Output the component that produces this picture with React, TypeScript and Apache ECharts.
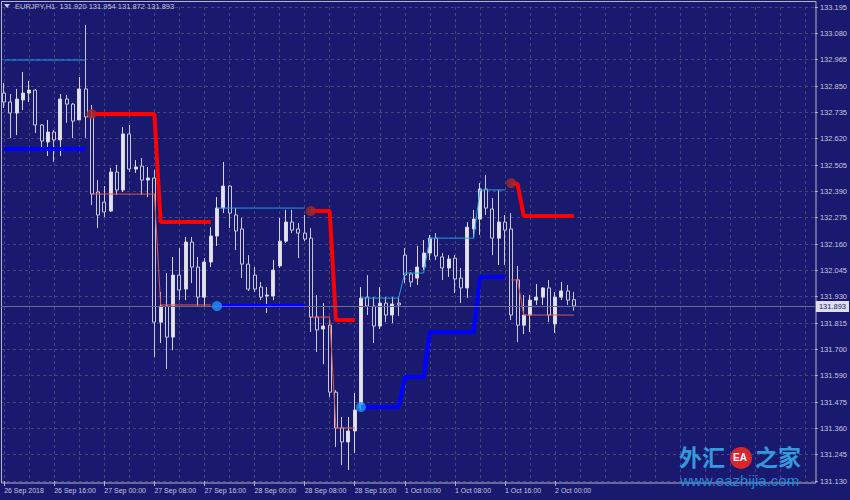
import React, { useEffect, useRef } from 'react';
import * as echarts from 'echarts';

const _ = null;

// ---- axis labels ----
const X_TICK_LABELS = ['26 Sep 2018', '26 Sep 16:00', '27 Sep 00:00', '27 Sep 08:00', '27 Sep 16:00', '28 Sep 00:00',
  '28 Sep 08:00', '28 Sep 16:00', '1 Oct 00:00', '1 Oct 08:00', '1 Oct 16:00', '2 Oct 00:00'];
const Y_TICK_LABELS = ['131.130', '131.245', '131.360', '131.475', '131.590', '131.700', '131.815', '131.930', '132.045',
  '132.160', '132.275', '132.390', '132.505', '132.620', '132.735', '132.850', '132.965', '133.080', '133.195'];
const SLOT_COUNT = 130; // bar slots visible on the chart (incl. empty right shift)
const CATEGORIES = Array.from({ length: SLOT_COUNT }, (_v, i) => String(i));

// ---- EURJPY H1 candles ----
const OPEN = [
  132.820, 132.781, 132.733, 132.790, 132.820, 132.833, 132.681, 132.607, 132.650, 132.616,
  132.794, 132.772, 132.703, 132.838, 132.716, 132.389, 132.345, 132.306, 132.476, 132.398,
  132.642, 132.489, 132.502, 132.441, 132.450, 131.822, 131.892, 131.757, 132.027, 131.966,
  132.171, 132.062, 131.931, 132.084, 132.197, 132.319, 132.415, 132.289, 132.228, 132.075,
  132.027, 131.975, 131.936, 131.936, 132.067, 132.175, 132.258, 132.228, 132.210, 132.188,
  131.844, 131.792, 131.809, 131.517, 131.361, 131.300, 131.348, 131.448, 131.931, 131.892,
  131.805, 131.905, 131.853, 131.905, 132.114, 132.032, 132.014, 132.062, 132.123, 132.188,
  132.106, 132.058, 132.101, 132.014, 131.971, 132.228, 132.271, 132.402, 132.315, 132.188,
  132.258, 132.228, 132.006, 131.809, 131.853, 131.918, 131.931, 131.971, 131.814, 131.931,
  131.958, 131.920,
];
const CLOSE = [
  132.781, 132.733, 132.794, 132.820, 132.833, 132.681, 132.611, 132.650, 132.616, 132.794,
  132.772, 132.698, 132.838, 132.716, 132.380, 132.289, 132.302, 132.476, 132.398, 132.642,
  132.489, 132.498, 132.441, 132.450, 131.822, 131.892, 131.757, 132.027, 131.962, 132.171,
  132.062, 131.931, 132.084, 132.197, 132.319, 132.415, 132.297, 132.219, 132.075, 131.966,
  131.966, 131.931, 131.940, 132.049, 132.175, 132.258, 132.223, 132.210, 132.184, 131.844,
  131.788, 131.805, 131.517, 131.361, 131.300, 131.348, 131.439, 131.927, 131.892, 131.805,
  131.905, 131.853, 131.901, 131.897, 132.027, 131.997, 132.062, 132.123, 132.188, 132.110,
  132.058, 132.097, 132.010, 131.971, 132.236, 132.271, 132.402, 132.319, 132.188, 132.258,
  132.223, 131.853, 131.809, 131.853, 131.918, 131.931, 131.971, 131.853, 131.931, 131.958,
  131.918, 131.893,
];
const LOW = [
  132.755, 132.624, 132.637, 132.746, 132.781, 132.646, 132.581, 132.546, 132.520, 132.546,
  132.690, 132.624, 132.703, 132.624, 132.332, 132.232, 132.280, 132.302, 132.376, 132.389,
  132.476, 132.472, 132.376, 132.367, 131.670, 131.731, 131.618, 131.700, 131.918, 131.918,
  131.992, 131.888, 131.888, 132.062, 132.154, 132.297, 132.232, 132.136, 132.014, 131.958,
  131.953, 131.918, 131.862, 131.918, 132.058, 132.167, 132.210, 132.101, 132.175, 131.779,
  131.692, 131.639, 131.496, 131.278, 131.199, 131.178, 131.252, 131.439, 131.853, 131.731,
  131.792, 131.822, 131.818, 131.849, 131.992, 131.975, 131.984, 132.049, 132.093, 132.093,
  132.006, 132.019, 131.949, 131.905, 131.927, 132.188, 132.202, 132.289, 132.114, 132.071,
  132.071, 131.831, 131.735, 131.770, 131.779, 131.897, 131.897, 131.822, 131.775, 131.918,
  131.897, 131.872,
];
const HIGH = [
  132.864, 132.816, 132.838, 132.912, 132.873, 132.838, 132.685, 132.703, 132.659, 132.816,
  132.812, 132.777, 132.890, 133.117, 132.768, 132.441, 132.415, 132.494, 132.507, 132.672,
  132.681, 132.528, 132.537, 132.498, 132.485, 131.953, 132.036, 132.106, 132.145, 132.193,
  132.193, 132.106, 132.101, 132.236, 132.367, 132.520, 132.419, 132.319, 132.276, 132.114,
  132.062, 131.997, 131.975, 132.093, 132.276, 132.311, 132.311, 132.254, 132.289, 132.232,
  131.940, 131.905, 131.831, 131.526, 131.409, 131.409, 131.513, 131.975, 132.027, 131.931,
  131.975, 131.931, 131.931, 131.927, 132.145, 132.040, 132.154, 132.180, 132.202, 132.210,
  132.123, 132.114, 132.114, 132.058, 132.258, 132.311, 132.428, 132.463, 132.363, 132.398,
  132.289, 132.297, 132.067, 131.940, 131.940, 131.988, 131.975, 132.006, 131.953, 131.997,
  131.984, 131.954,
];

// ---- indicator lines (per bar, null = not drawn) ----
const RED_STOP = [
  _, _, _, _, _, _, _, _, _, _, _, _, _, _,
  132.729, 132.729, 132.729, 132.729, 132.729, 132.729, 132.729, 132.729, 132.729, 132.729, 132.729,
  132.258, 132.258, 132.258, 132.258, 132.258, 132.258, 132.258, 132.258, 132.258,
  _, _, _, _, _, _, _, _, _, _, _, _, _, _, _,
  132.306, 132.306, 132.306, 132.306,
  131.831, 131.831, 131.831, 131.831,
  _, _, _, _, _, _, _, _, _, _, _, _, _, _, _, _, _, _, _, _, _, _, _, _,
  132.428, 132.424,
  132.284, 132.284, 132.284, 132.284, 132.284, 132.284, 132.284, 132.284, 132.284,
];
const BLUE_STOP = [
  132.576, 132.576, 132.576, 132.576, 132.576, 132.576, 132.576, 132.576, 132.576, 132.576, 132.576, 132.576, 132.576, 132.576,
  _, _, _, _, _, _, _, _, _, _, _, _, _, _, _, _, _, _, _, _,
  131.892, 131.892, 131.892, 131.892, 131.892, 131.892, 131.892, 131.892, 131.892, 131.892, 131.892, 131.892, 131.892, 131.892, 131.892,
  _, _, _, _, _, _, _, _,
  131.452, 131.452, 131.452, 131.452, 131.452, 131.452, 131.452,
  131.583, 131.583, 131.583, 131.583,
  131.779, 131.779, 131.779, 131.779, 131.779, 131.779, 131.779, 131.779,
  132.019, 132.019, 132.019, 132.019, 132.019,
  _, _, _, _, _, _, _, _, _, _, _,
];
const UPPER_THIN = [
  132.964, 132.964, 132.964, 132.964, 132.964, 132.964, 132.964, 132.964, 132.964, 132.964, 132.964, 132.964, 132.964, 132.964,
  _, _, _, _, _, _, _, _, _, _, _, _, _, _, _, _, _, _, _, _,
  132.319, 132.319, 132.319, 132.319, 132.319, 132.319, 132.319, 132.319, 132.319, 132.319, 132.319, 132.319, 132.319, 132.319, 132.319,
  _, _, _, _, _, _, _, _,
  131.927, 131.927, 131.927, 131.927, 131.927, 131.927, 131.927,
  132.036, 132.036, 132.036, 132.036,
  132.188, 132.188, 132.188, 132.188, 132.188, 132.188, 132.188, 132.188,
  132.398, 132.398, 132.398, 132.398, 132.398,
  _, _, _, _, _, _, _, _, _, _, _,
];
const LOWER_THIN = [
  _, _, _, _, _, _, _, _, _, _, _, _, _, _,
  132.380, 132.380, 132.380, 132.380, 132.380, 132.380, 132.380, 132.380, 132.380, 132.380, 132.380,
  131.897, 131.897, 131.897, 131.897, 131.897, 131.897, 131.897, 131.897, 131.897,
  _, _, _, _, _, _, _, _, _, _, _, _, _, _, _,
  131.844, 131.844, 131.844, 131.844,
  131.361, 131.361, 131.361, 131.361,
  _, _, _, _, _, _, _, _, _, _, _, _, _, _, _, _, _, _, _, _, _, _, _, _,
  132.006, 132.006,
  131.853, 131.853, 131.853, 131.853, 131.853, 131.853, 131.853, 131.853, 131.853,
];
const RED_DOTS = [[14, 132.729], [49, 132.306], [81, 132.428]];
const BLUE_DOTS = [[34, 131.892], [57, 131.452]];

const CURRENT_PRICE = 131.893;
const HEADER = 'EURJPY,H1  131.920 131.954 131.872 131.893';

// ---- scale: price axis spans exactly the labelled range ----
const PRICE_MIN = 131.13;
const PRICE_MAX = 133.195;
const LABEL_STEPS = Y_TICK_LABELS.length - 1;

const BG = '#191970';
const TXT = '#c8c8dc';
const GRID = '#45457a';
const FRAME = '#b4b4c8';
const FONT = '"Liberation Sans", Arial, sans-serif';

export default function App() {
  const ref = useRef<HTMLDivElement>(null);

  useEffect(() => {
    if (!ref.current) return;
    const chart = echarts.init(ref.current, null, { renderer: 'svg' });
    const candles = OPEN.map((o, i) => [o, CLOSE[i], LOW[i], HIGH[i]]);

    const option: any = {
      animation: false,
      backgroundColor: BG,
      grid: { left: 1, right: 34, top: 7, bottom: 19, show: false },
      xAxis: {
        type: 'category',
        data: CATEGORIES,
        boundaryGap: true,
        axisLine: { show: false },
        axisTick: {
          show: true, alignWithLabel: true, length: 5,
          interval: (i: number) => i % 8 === 0 && i <= 88,
          lineStyle: { color: FRAME },
        },
        axisLabel: {
          interval: (i: number) => i % 8 === 0 && i <= 88,
          formatter: (v: string) => X_TICK_LABELS[Number(v) / 8] ?? '',
          align: 'left', color: TXT, fontSize: 7, fontFamily: FONT, margin: 6,
        },
        splitLine: {
          show: true, interval: 3, alignWithLabel: true,
          lineStyle: { color: GRID, type: [3, 3], width: 1 },
        },
      },
      yAxis: [
        { type: 'value', min: PRICE_MIN, max: PRICE_MAX, show: false },
        {
          type: 'value', min: 0, max: LABEL_STEPS, interval: 1, position: 'right',
          axisLine: { show: false },
          axisTick: { show: true, length: 3, lineStyle: { color: FRAME } },
          axisLabel: {
            color: TXT, fontSize: 7.5, fontFamily: FONT, margin: 5,
            formatter: (v: number) => Y_TICK_LABELS[Math.round(v)] ?? '',
          },
          splitLine: { show: true, lineStyle: { color: GRID, type: [3, 3], width: 1 } },
        },
      ],
      series: [
        {
          type: 'candlestick',
          yAxisIndex: 0,
          data: candles,
          barWidth: 3.5,
          itemStyle: {
            color: '#e4e4e8', color0: BG,
            borderColor: '#d6d6de', borderColor0: '#c8c8d6', borderWidth: 1,
          },
          markLine: {
            silent: true,
            symbol: ['none', 'none'],
            data: [{ yAxis: CURRENT_PRICE }],
            lineStyle: { color: '#6a6a8c', width: 1, type: 'solid' },
            label: {
              show: true, position: 'end', distance: 1,
              formatter: CURRENT_PRICE.toFixed(3),
              color: BG, backgroundColor: '#dedee8', fontSize: 7.5, fontFamily: FONT,
              padding: [2, 3, 1, 3],
            },
          },
          z: 2,
        },
        {
          type: 'line', yAxisIndex: 0, data: UPPER_THIN, symbol: 'none', connectNulls: false,
          lineStyle: { color: '#1fa2e6', width: 1 }, z: 3,
        },
        {
          type: 'line', yAxisIndex: 0, data: LOWER_THIN, symbol: 'none', connectNulls: false,
          lineStyle: { color: '#e05a48', width: 1 }, z: 3,
        },
        {
          type: 'line', yAxisIndex: 0, data: RED_STOP, symbol: 'none', connectNulls: false,
          lineStyle: { color: '#ff0000', width: 4 }, z: 4,
        },
        {
          type: 'line', yAxisIndex: 0, data: BLUE_STOP, symbol: 'none', connectNulls: false,
          lineStyle: { color: '#0000ff', width: 4 }, z: 4,
        },
        {
          type: 'scatter', yAxisIndex: 0, data: RED_DOTS, symbolSize: 10,
          itemStyle: { color: '#a3282c' }, z: 5,
        },
        {
          type: 'scatter', yAxisIndex: 0, data: BLUE_DOTS, symbolSize: 10,
          itemStyle: { color: '#1e90ff' }, z: 5,
        },
      ],
      graphic: [
        {
          type: 'rect', z: 1, silent: true,
          shape: { x: 1.5, y: 1.5, width: 814.5, height: 481.5 },
          style: { fill: 'none', stroke: FRAME, lineWidth: 1 },
        },
        { type: 'polygon', z: 10, shape: { points: [[4, 4], [10, 4], [7, 8]] }, style: { fill: TXT } },
        {
          type: 'text', z: 10, x: 15, y: 2.5,
          style: { text: HEADER, fill: TXT, fontSize: 7.5, fontFamily: FONT },
        },
        {
          type: 'text', z: 20, x: 679, y: 444,
          style: { text: '外汇', fill: '#3599dd', fontSize: 23, fontWeight: 'bold', fontFamily: '"Noto Sans CJK SC"' },
        },
        { type: 'circle', z: 20, shape: { cx: 741, cy: 458, r: 11 }, style: { fill: '#d9262c' } },
        {
          type: 'text', z: 21, x: 733, y: 452,
          style: { text: 'EA', fill: '#ffffff', fontSize: 10, fontWeight: 'bold', fontFamily: FONT },
        },
        {
          type: 'text', z: 20, x: 755, y: 444,
          style: { text: '之家', fill: '#3599dd', fontSize: 23, fontWeight: 'bold', fontFamily: '"Noto Sans CJK SC"' },
        },
        {
          type: 'text', z: 20, x: 680, y: 473,
          style: { text: 'www.eazhijia.com', fill: '#1f8ad6', fontSize: 15, fontFamily: FONT },
        },
      ],
    };

    chart.setOption(option);
    return () => chart.dispose();
  }, []);

  return (
    <div
      ref={ref}
      style={{ position: 'absolute', left: 0, top: 0, width: 850, height: 500, background: BG }}
    />
  );
}
